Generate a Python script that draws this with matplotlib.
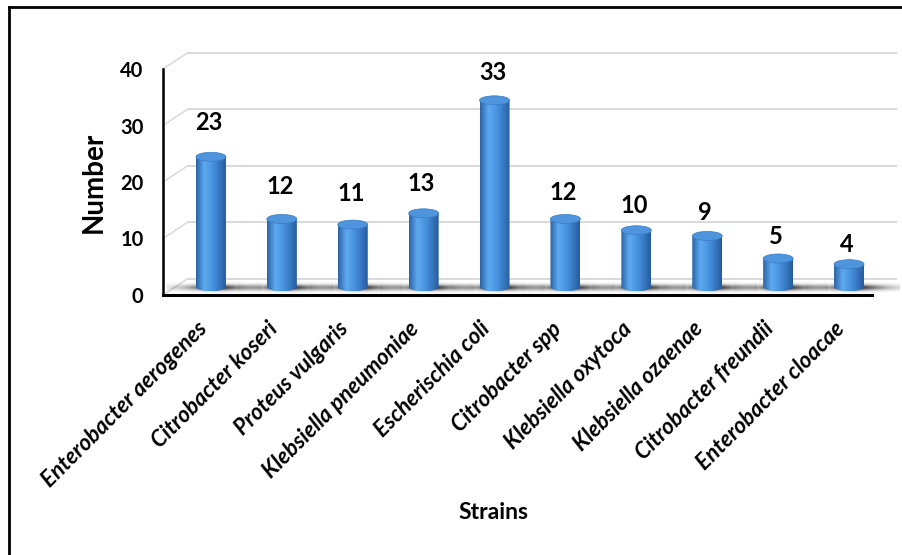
import numpy as np
import matplotlib

matplotlib.use("Agg")
import matplotlib.pyplot as plt  # noqa: E402
from matplotlib.lines import Line2D  # noqa: E402
from matplotlib.patches import Ellipse, PathPatch  # noqa: E402
from matplotlib.path import Path  # noqa: E402
from matplotlib.transforms import ScaledTranslation  # noqa: E402

# ---------------------------------------------------------------------------
# Data
# ---------------------------------------------------------------------------
strains = [
    "Enterobacter aerogenes",
    "Citrobacter koseri",
    "Proteus vulgaris",
    "Klebsiella pneumoniae",
    "Escherischia coli",
    "Citrobacter spp",
    "Klebsiella oxytoca",
    "Klebsiella ozaenae",
    "Citrobacter freundii",
    "Enterobacter cloacae",
]
counts = [23, 12, 11, 13, 33, 12, 10, 9, 5, 4]
y_ticks = [0, 10, 20, 30, 40]

# ---------------------------------------------------------------------------
# Look
# ---------------------------------------------------------------------------
W, H, DPI = 903, 555, 100
FONT = "Lato"
GRID = "#d9d9d9"
BODY_STOPS = [0.0, 0.28, 0.55, 1.0]
BODY_COLS = ["#2a63a6", "#5eaaf0", "#4893e0", "#255c9e"]
CAP_COL = "#4e95de"

# pseudo-3D depth of the plot box, in pixels
DEPTH_PX = (25.0, 16.5)
HALF_W_PX = 15.0     # cylinder radius
CAP_H_PX = 4.5       # half-height of the elliptic ends

plt.rcParams["font.family"] = [FONT, "DejaVu Sans"]

fig = plt.figure(figsize=(W / DPI, H / DPI), dpi=DPI)
ax = fig.add_axes([163 / W, 1 - 295 / H, 709 / W, 226 / H])
ax.set_xlim(-0.5, len(strains) - 0.5)
ax.set_ylim(0, 40)

ppx = ax.bbox.width / len(strains)
ppy = ax.bbox.height / 40.0
dxb, dyb = DEPTH_PX[0] / ppx, DEPTH_PX[1] / ppy
hw, eh = HALF_W_PX / ppx, CAP_H_PX / ppy

# back wall + left wall gridlines
x0, x1 = -0.5, len(strains) - 0.5
for v in y_ticks:
    ax.plot([x0 + dxb, x1 + dxb], [v + dyb, v + dyb], color=GRID, lw=1.4,
            zorder=1, clip_on=False, solid_capstyle="butt")
    ax.plot([x0, x0 + dxb], [v, v + dyb], color=GRID, lw=1.1,
            zorder=1, clip_on=False)

# horizontal shading for the cylinder bodies
g = np.linspace(0, 1, 96)
rgb = np.array([matplotlib.colors.to_rgb(c) for c in BODY_COLS])
grad = np.stack([np.interp(g, BODY_STOPS, rgb[:, k]) for k in range(3)], -1)
grad = grad[np.newaxis, :, :]

# soft floor shadow sprite
sx = np.linspace(-1, 1, 120)
sy = np.linspace(-1, 1, 30)
SX, SY = np.meshgrid(sx, sy)
shadow = np.zeros(SX.shape + (4,))
shadow[..., :3] = 0.12
shadow[..., 3] = np.exp(-np.abs((SX - 0.06) / 0.62) ** 1.4
                        - (SY / 0.55) ** 2)

t = np.linspace(np.pi, 2 * np.pi, 40)
for i, v in enumerate(counts):
    cx = i + dxb / 2
    base = dyb / 2

    ax.imshow(shadow, extent=[cx - 44 / ppx, cx + 50 / ppx,
                              base - 6 / ppy, base + 5 / ppy],
              aspect="auto", zorder=2, clip_on=False, interpolation="bilinear")

    # body outline: straight sides, rounded front bottom
    verts = [(cx - hw, base + v)]
    verts += list(zip(cx + hw * np.cos(t), base + eh * np.sin(t)))
    verts += [(cx + hw, base + v), (cx - hw, base + v)]
    body = PathPatch(Path(verts, closed=True), facecolor="none",
                     edgecolor="none", transform=ax.transData)
    ax.add_patch(body)
    im = ax.imshow(grad, extent=[cx - hw, cx + hw, base - eh, base + v + eh],
                   aspect="auto", zorder=3, interpolation="bilinear")
    im.set_clip_path(body)

    ax.add_patch(Ellipse((cx, base + v), 2 * hw, 2 * eh, facecolor=CAP_COL,
                         edgecolor="#3b7cc6", lw=0.5, zorder=4))

    ax.annotate(str(v), xy=(cx, base + v), xytext=(-2, 34 - 1.55 * i),
                textcoords="offset pixels", ha="center", va="center",
                fontsize=17, fontweight="bold", color="black", zorder=6)

ax.set_xlim(-0.5, len(strains) - 0.5)
ax.set_ylim(0, 40)

# axes frame: front edges only
for side in ("top", "right"):
    ax.spines[side].set_visible(False)
ax.spines["left"].set_linewidth(1.8)
ax.spines["bottom"].set_linewidth(2.2)
for side in ("left", "bottom"):
    ax.spines[side].set_zorder(5)

ax.set_yticks(y_ticks)
ax.set_yticklabels([str(v) for v in y_ticks], fontsize=14.5, fontweight="bold")
ax.tick_params(axis="y", length=0, pad=14)

ax.set_xticks(range(len(strains)))
ax.set_xticklabels(strains, rotation=45, ha="right", va="center",
                   rotation_mode="anchor", fontsize=16, fontweight="bold",
                   fontstyle="italic")
ax.tick_params(axis="x", length=0, pad=22)
shift = ScaledTranslation(5 / DPI, 0, fig.dpi_scale_trans)
for lab in ax.get_xticklabels():
    lab.set_transform(lab.get_transform() + shift)

ax.set_ylabel("Number", fontsize=20, fontweight="bold", labelpad=10)
ax.set_xlabel("Strains", fontsize=16.5, fontweight="bold")
ax.xaxis.set_label_coords((493 - 163) / 709, (295 - 502) / 226)

# outer chart border (top and left edges)
fig.add_artist(Line2D([9 / W, 1], [1 - 7 / H, 1 - 7 / H], color="black",
                      lw=2, transform=fig.transFigure))
fig.add_artist(Line2D([9 / W, 9 / W], [0, 1 - 7 / H], color="black",
                      lw=2, transform=fig.transFigure))

fig.savefig("out.png", dpi=DPI)
